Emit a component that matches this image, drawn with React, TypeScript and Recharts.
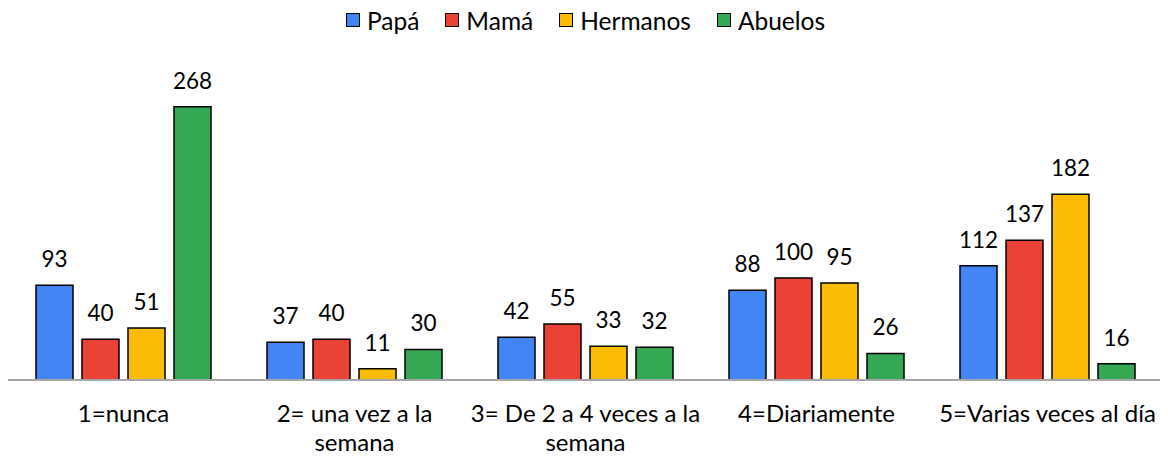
import React from "react";
import { BarChart, Bar, XAxis, YAxis, Legend, LabelList } from "recharts";

const categories = [
  "1=nunca",
  "2= una vez a la semana",
  "3= De 2 a 4 veces a la semana",
  "4=Diariamente",
  "5=Varias veces al día",
];
// how the category labels break onto lines
const tickLines = [
  ["1=nunca"],
  ["2= una vez a la", "semana"],
  ["3= De 2 a 4 veces a la", "semana"],
  ["4=Diariamente"],
  ["5=Varias veces al día"],
];

const papa = [93, 37, 42, 88, 112];
const mama = [40, 40, 55, 100, 137];
const hermanos = [51, 11, 33, 95, 182];
const abuelos = [268, 30, 32, 26, 16];

const SERIES = [
  { key: "papa", name: "Papá", color: "#4285F4" },
  { key: "mama", name: "Mamá", color: "#EA4335" },
  { key: "hermanos", name: "Hermanos", color: "#FBBC04" },
  { key: "abuelos", name: "Abuelos", color: "#34A853" },
];

const FONT = "Lato, 'Open Sans', sans-serif";

const data = categories.map((name, i) => ({
  name,
  papa: papa[i],
  mama: mama[i],
  hermanos: hermanos[i],
  abuelos: abuelos[i],
}));

const CategoryTick = (props: any) => {
  const { x, y, index } = props;
  const lines = tickLines[index] ?? [props.payload?.value];
  return (
    <g transform={`translate(${x},${y})`}>
      {lines.map((line: string, i: number) => (
        <text
          key={line}
          x={0}
          y={34 + i * 29}
          textAnchor="middle"
          fontSize={24}
          fontFamily={FONT}
          fill="#000"
        >
          {line}
        </text>
      ))}
    </g>
  );
};

const LegendContent = () => (
  <div
    style={{
      height: 30,
      display: "flex",
      justifyContent: "center",
      alignItems: "center",
      fontFamily: FONT,
      fontSize: 24.5,
      color: "#000",
    }}
  >
    {SERIES.map((s) => (
      <div key={s.key} style={{ display: "flex", alignItems: "center", margin: "0 13px" }}>
        <span
          style={{
            width: 12,
            height: 12,
            background: s.color,
            border: "1.5px solid #000",
            marginRight: 7,
            display: "inline-block",
          }}
        />
        <span>{s.name}</span>
      </div>
    ))}
  </div>
);

export default function App() {
  return (
    <div style={{ margin: -8, width: 1168, height: 462, background: "#fff" }}>
      <BarChart
        width={1168}
        height={462}
        data={data}
        margin={{ top: 44, right: 5, bottom: 0, left: 8 }}
        barGap={9}
        barSize={37}
      >
        <Legend
          verticalAlign="top"
          align="center"
          content={<LegendContent />}
          wrapperStyle={{ top: 5 }}
        />
        <XAxis
          dataKey="name"
          tickLine={false}
          axisLine={{ stroke: "#a6a6a6", strokeWidth: 2 }}
          height={82}
          interval={0}
          tick={<CategoryTick />}
        />
        <YAxis hide domain={[0, 300]} />
        {SERIES.map((s) => (
          <Bar
            key={s.key}
            dataKey={s.key}
            name={s.name}
            fill={s.color}
            stroke="#000"
            strokeWidth={1.5}
            isAnimationActive={false}
          >
            <LabelList
              dataKey={s.key}
              position="top"
              offset={18}
              fontSize={22.5}
              fontFamily={FONT}
              fill="#000"
            />
          </Bar>
        ))}
      </BarChart>
    </div>
  );
}
